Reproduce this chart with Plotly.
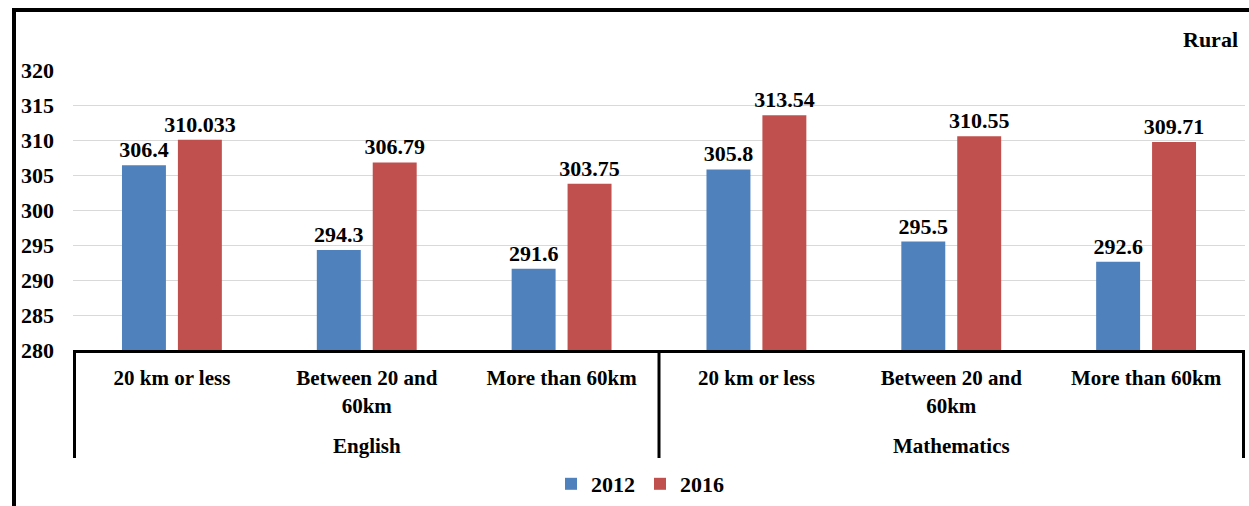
import plotly.graph_objects as go

subjects = ["English"] * 3 + ["Mathematics"] * 3
distances = ["20 km or less", "Between 20 and<br>60km", "More than 60km"] * 2
series_2012 = [306.4, 294.3, 291.6, 305.8, 295.5, 292.6]
series_2016 = [310.033, 306.79, 303.75, 313.54, 310.55, 309.71]
labels_2012 = ["306.4", "294.3", "291.6", "305.8", "295.5", "292.6"]
labels_2016 = ["310.033", "306.79", "303.75", "313.54", "310.55", "309.71"]
y_ticks = [280, 285, 290, 295, 300, 305, 310, 315, 320]
group_names = ["English", "Mathematics"]

FONT = "Liberation Serif"
FS = 22
W, H = 1249, 506
L, R, T, B = 73, 4, 70, 156
pw = W - L - R
ph = H - T - B

def px_x(x):
    return (x - L) / pw

def px_y(y):
    return (H - B - y) / ph

keys = [f"{s} | {d}" for s, d in zip(subjects, distances)]

fig = go.Figure()
for name, vals, labs, col in [("2012", series_2012, labels_2012, "#4F81BD"),
                              ("2016", series_2016, labels_2016, "#C0504D")]:
    fig.add_trace(go.Bar(
        name=name, x=keys, y=vals,
        marker=dict(color=col, line=dict(width=0)),
        text=labs, textposition="outside", cliponaxis=False, constraintext="none",
        textfont=dict(family=FONT, size=FS, color="black", weight="bold"),
    ))

fig.update_layout(
    width=W, height=H,
    margin=dict(l=L, r=R, t=T, b=B, autoexpand=False),
    paper_bgcolor="white", plot_bgcolor="white",
    barmode="group", bargap=0.426, bargroupgap=0.214,
    font=dict(family=FONT, size=FS, color="black", weight="bold"),
    showlegend=True,
    legend=dict(orientation="h", x=px_x(640), xanchor="center",
                y=px_y(484), yanchor="middle",
                font=dict(family=FONT, size=FS, color="black", weight="bold"),
                itemwidth=30, tracegroupgap=0),
)
fig.update_yaxes(
    range=[280, 320], tickvals=y_ticks, showgrid=True, gridcolor="#D9D9D9", gridwidth=1,
    zeroline=False, showline=False, ticks="", ticklabelstandoff=18,
    tickfont=dict(family=FONT, size=FS, color="black", weight="bold"),
)
fig.update_xaxes(
    type="category", categoryorder="array", categoryarray=keys,
    tickvals=keys, ticktext=distances,
    showline=True, linecolor="black", linewidth=3, showgrid=False,
    ticks="", tickangle=0, ticklabelstandoff=7,
    tickfont=dict(family=FONT, size=21, color="black", weight="bold"),
)

# group dividers (category-index coordinates) and group labels
n_per_group = 3
for g, gname in enumerate(group_names):
    start = g * n_per_group - 0.5
    fig.add_shape(type="line", xref="x", yref="paper",
                  x0=start, x1=start, y0=0, y1=px_y(458),
                  line=dict(color="black", width=3))
    fig.add_annotation(text=gname, xref="x", yref="paper",
                       x=g * n_per_group + (n_per_group - 1) / 2, y=px_y(446),
                       xanchor="center", yanchor="middle", showarrow=False,
                       font=dict(family=FONT, size=21, color="black", weight="bold"))
end = len(keys) - 0.5
fig.add_shape(type="line", xref="x", yref="paper",
              x0=end, x1=end, y0=0, y1=px_y(458),
              line=dict(color="black", width=3))

# outer frame
fig.add_shape(type="line", xref="paper", yref="paper",
              x0=px_x(14), x1=px_x(14), y0=px_y(8), y1=px_y(510),
              line=dict(color="black", width=4))
fig.add_shape(type="line", xref="paper", yref="paper",
              x0=px_x(12), x1=px_x(1252), y0=px_y(10), y1=px_y(10),
              line=dict(color="black", width=4))

fig.add_annotation(text="Rural", xref="paper", yref="paper",
                   x=px_x(1240), y=px_y(40), xanchor="right", yanchor="middle",
                   showarrow=False, font=dict(family=FONT, size=FS, color="black", weight="bold"))

fig.write_html("out.html", config={"displayModeBar": False},
               post_script="document.body.style.margin='0';")
